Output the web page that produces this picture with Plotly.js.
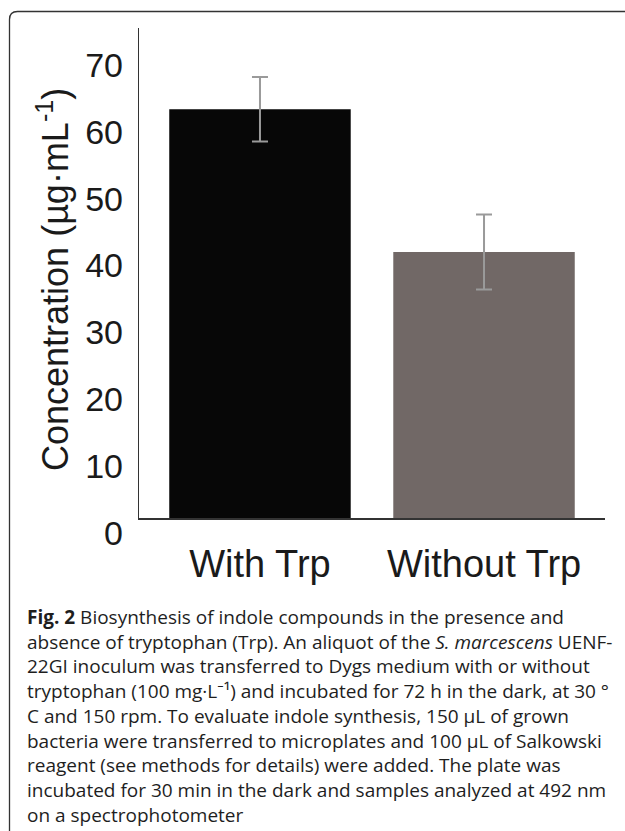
<!DOCTYPE html>
<html>
<head>
<meta charset="utf-8">
<script src="https://cdn.plot.ly/plotly-3.0.1.min.js"></script>
<style>
  html, body { margin: 0; padding: 0; background: #ffffff; }
  #chart { width: 625px; height: 831px; }
</style>
</head>
<body>
<div id="chart"></div>
<script>
// ---- data ----
const categories = ['With Trp', 'Without Trp'];
const means = [58.4, 38.0];
const errors = [4.6, 5.35];
const barColors = ['#070707', '#716866'];
const yTickVals = [0, 10, 20, 30, 40, 50, 60, 70];
const yTickText = ['0', '10', '20', '30', '40', '50', '60', '70'];
const yTitle = 'Concentration (µg·mL<sup>-1</sup>)';
const captionLines = [
  '<b>Fig. 2</b> Biosynthesis of indole compounds in the presence and',
  'absence of tryptophan (Trp). An aliquot of the <i>S. marcescens</i> UENF-',
  '22GI inoculum was transferred to Dygs medium with or without',
  'tryptophan (100 mg·L⁻¹) and incubated for 72 h in the dark, at 30 °',
  'C and 150 rpm. To evaluate indole synthesis, 150 µL of grown',
  'bacteria were transferred to microplates and 100 µL of Salkowski',
  'reagent (see methods for details) were added. The plate was',
  'incubated for 30 min in the dark and samples analyzed at 492 nm',
  'on a spectrophotometer'
];

// ---- layout geometry (pixels) ----
const W = 625, H = 831;
const M = { l: 139, r: 20, t: 28, b: 313 };
const pw = W - M.l - M.r, ph = H - M.t - M.b;
const px2x = p => (p - M.l) / pw;
const px2y = p => (H - M.b - p) / ph;

const bars = {
  type: 'bar',
  x: categories,
  y: means,
  marker: { color: barColors, line: { width: 0 } },
  error_y: { type: 'data', array: errors, visible: true, color: '#9a9a9a', thickness: 2, width: 8 },
  hoverinfo: 'x+y',
  showlegend: false
};
const labelCarrier = {
  type: 'scatter', mode: 'markers', x: categories, y: means, yaxis: 'y2',
  marker: { opacity: 0 }, hoverinfo: 'skip', showlegend: false
};

const capTop = 617, capPitch = 24.7;
const annotations = captionLines.map((t, i) => ({
  text: t, xref: 'paper', yref: 'paper',
  x: px2x(25), y: px2y(capTop + i * capPitch),
  xanchor: 'left', yanchor: 'middle', align: 'left', showarrow: false,
  font: { family: 'Open Sans, Noto Sans, sans-serif', size: 19, color: '#1e1e1e' }
}));
annotations.push({
  text: yTitle, xref: 'paper', yref: 'paper',
  x: px2x(53), y: px2y(280), xanchor: 'center', yanchor: 'middle',
  textangle: -90, showarrow: false,
  font: { family: 'Liberation Sans, Arial, sans-serif', size: 36, color: '#1a1a1a' }
});

const fx = px2x(9.5), fyTop = px2y(11.5), r = 8;
const framePath = 'M ' + fx + ' ' + px2y(850) +
  ' L ' + fx + ' ' + px2y(11.5 + r) +
  ' Q ' + fx + ' ' + fyTop + ' ' + px2x(9.5 + r) + ' ' + fyTop +
  ' L ' + px2x(640) + ' ' + fyTop;

const layout = {
  width: W, height: H,
  margin: M,
  paper_bgcolor: '#ffffff', plot_bgcolor: '#ffffff',
  bargap: 0.19,
  font: { family: 'Liberation Sans, Arial, sans-serif', color: '#1a1a1a' },
  xaxis: {
    type: 'category', range: [-0.54, 1.54], showline: true, linecolor: '#333333', linewidth: 1.5,
    ticks: '', showgrid: false, zeroline: false, ticklabelstandoff: 12,
    tickfont: { size: 38, color: '#1a1a1a' }, fixedrange: true
  },
  yaxis: {
    range: [0, 70], showline: true, linecolor: '#333333', linewidth: 1.5,
    showticklabels: false, ticks: '', showgrid: false, zeroline: false, fixedrange: true
  },
  yaxis2: {
    overlaying: 'y', side: 'left', range: [0, 73.29],
    tickmode: 'array', tickvals: yTickVals, ticktext: yTickText,
    showline: false, showgrid: false, zeroline: false, ticks: '',
    ticklabelstandoff: 15, ticklabelshift: 15,
    tickfont: { size: 34, color: '#1a1a1a' },
    fixedrange: true
  },
  shapes: [{
    type: 'path', xref: 'paper', yref: 'paper', path: framePath,
    line: { color: '#333333', width: 1.3 }
  }],
  annotations: annotations
};

Plotly.newPlot('chart', [bars, labelCarrier], layout, { displayModeBar: false, staticPlot: true });
</script>
</body>
</html>
